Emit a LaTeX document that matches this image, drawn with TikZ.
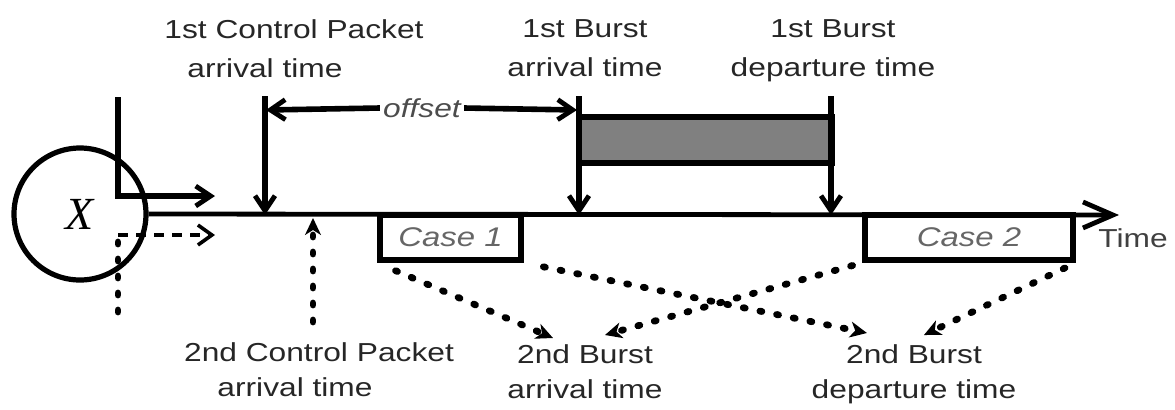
\documentclass[tikz,border=0pt]{standalone}
\usepackage{fontspec}
\setmainfont[FakeStretch=1.22]{Liberation Sans}
\newfontfamily\xfont{Liberation Serif}
\usetikzlibrary{arrows.meta}
\definecolor{burstgray}{RGB}{128,128,128}
\begin{document}
\begin{tikzpicture}[x=0.5pt,y=-0.5pt,
  lbl/.style={align=center,inner sep=0pt,text=black!85,font=\fontsize{13}{19.5}\selectfont},
  lblb/.style={lbl,font=\fontsize{13}{17.5}\selectfont},
  axis/.style={line width=2.4pt},
  barbtip/.style={-{Straight Barb[length=7.5pt,width=10pt,line width=2.4pt]}},
  tick/.style={line width=2.8pt,barbtip},
  dotline/.style={line width=3.4pt,dash pattern=on 1pt off 7.5pt,line cap=round},
  dotarrow/.style={dotline,-{Stealth[length=8.5pt,width=8pt,inset=2.5pt,line width=1pt]}},
  dashline/.style={line width=2.2pt,dash pattern=on 5pt off 4pt},
  casebox/.style={draw,line width=2.8pt,inner sep=0pt,minimum height=22.5pt,
                  font=\itshape\fontsize{13.5}{13.5}\selectfont,text=black!60},
]
\useasboundingbox (0,0) rectangle (1175,409);

% node X
\node[draw,circle,line width=2.6pt,minimum size=66pt,inner sep=0pt,
      font=\xfont\itshape\fontsize{23}{23}\selectfont] (x) at (80,214) {X};

% coordinates
\coordinate (tend) at (1119,215);
\coordinate (cpT) at (265,96);  \coordinate (cpB) at (265,215);
\coordinate (baT) at (579,96);  \coordinate (baB) at (579,215);
\coordinate (bdT) at (831,96);  \coordinate (bdB) at (831,215);
\coordinate (offL) at (266,110); \coordinate (offR) at (577,110);
\coordinate (inTop) at (118,97); \coordinate (inCorner) at (118,196); \coordinate (inOut) at (215,196);
\coordinate (dBot) at (118,312); \coordinate (dCorner) at (118,235); \coordinate (dOut) at (215,235);
\coordinate (cp2b) at (313,322); \coordinate (cp2t) at (313,218);
\coordinate (a2L) at (553,338); \coordinate (a2R) at (605,335);
\coordinate (d2L) at (867,333); \coordinate (d2R) at (924,335);

% labels
\node[lbl,anchor=north] (l1) at (294,19) {1st Control Packet\\arrival time\hspace*{29pt}};
\node[lbl,anchor=north] (l2) at (585,19) {1st Burst\\arrival time};
\node[lbl,anchor=north] (l3) at (833,19) {1st Burst\\departure time};
\node[lblb,anchor=north] (l4) at (319,342) {2nd Control Packet\\arrival time\hspace*{24pt}};
\node[lblb,anchor=north] (l5) at (585,344) {2nd Burst\\arrival time};
\node[lblb,anchor=north] (l6) at (914,344) {2nd Burst\\departure time};
\node[inner sep=0pt,text=black!75,font=\fontsize{13}{13}\selectfont] (time) at (1133,238) {Time};

% burst
\draw[line width=3pt,fill=burstgray] (579,117) rectangle (832,163);

% cases
\node[casebox,minimum width=70.5pt] (case1) at (450.5,237.5) {Case 1};
\node[casebox,minimum width=104pt] (case2) at (969,237.5) {Case 2};

% time axis
\draw[axis,-{Straight Barb[length=15pt,width=13pt,line width=2.4pt]}] (x.east) -- (tend);

% ticks
\draw[tick] (cpT) -- (cpB);
\draw[tick] (baT) -- (baB);
\draw[tick] (bdT) -- (bdB);
\node[inner sep=1.5pt,font=\itshape\fontsize{13}{13}\selectfont,text=black!70] (off) at (422,108) {offset};
\draw[tick] (off.west) -- (offL);
\draw[tick] (off.east) -- (offR);

% incoming at X
\draw[line width=2.8pt,barbtip] (inTop) -- (inCorner) -- (inOut);
\draw[dotline] (dBot) -- (dCorner);
\draw[dashline,-{Straight Barb[length=7pt,width=10pt,line width=1.8pt]}] (dCorner) -- (dOut);

% dotted arrows
\draw[dotarrow] (cp2b) -- (cp2t);
\draw[dotarrow,shorten <=10pt] (case1.south west) -- (a2L);
\draw[dotarrow,shorten <=10pt] (case1.south east) -- (d2L);
\draw[dotarrow,shorten <=5pt] (case2.south west) -- (a2R);
\draw[dotarrow,shorten <=6pt] (case2.south east) -- (d2R);
\end{tikzpicture}
\end{document}
